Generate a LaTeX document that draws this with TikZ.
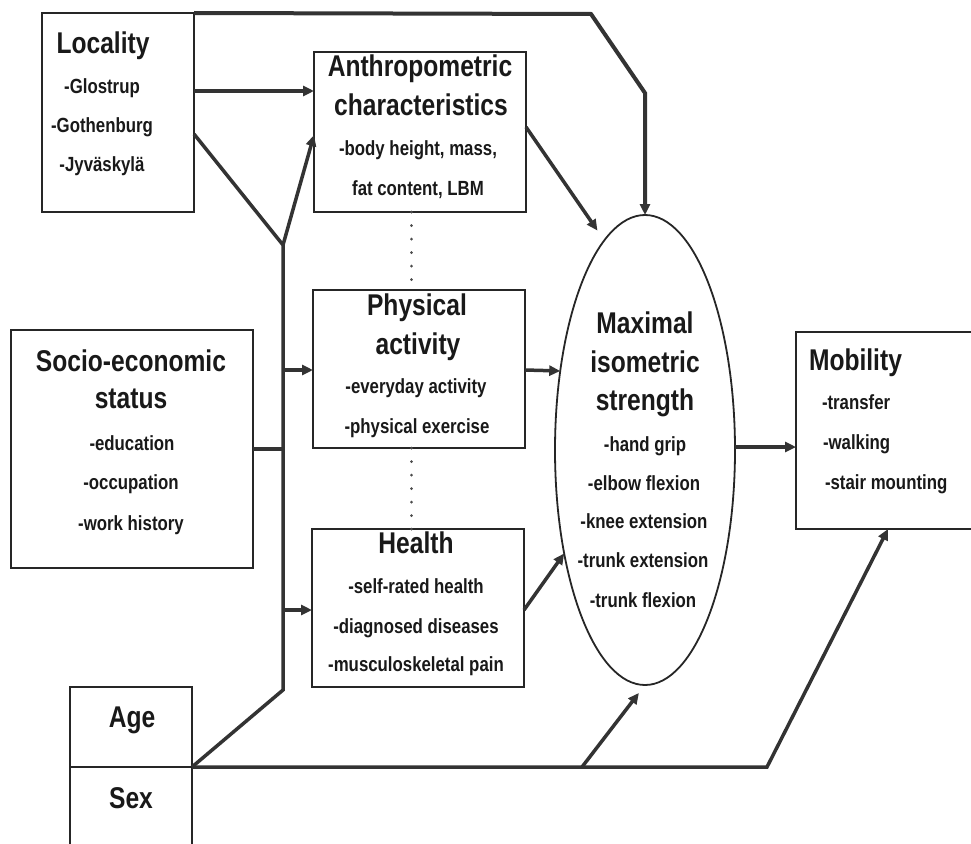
\documentclass[tikz,border=0pt]{standalone}
\usepackage{fontspec}
\setmainfont{Liberation Sans}[FakeStretch=0.82]
\usetikzlibrary{arrows.meta, positioning, shapes.geometric}

\begin{document}
\begin{tikzpicture}[x=1pt, y=-1pt, line join=miter,
    every node/.style={inner sep=0pt, outer sep=0pt}]
  \tikzstyle{box}=[rectangle, draw=black!85, line width=2pt, anchor=north west]
  \tikzstyle{ttl}=[font=\fontsize{30}{36}\selectfont\bfseries, text=black!90, anchor=base]
  \tikzstyle{itm}=[font=\fontsize{20.5}{24}\selectfont\bfseries, text=black!90, anchor=base]
  \tikzstyle{conn}=[draw=black!80, line width=3.5pt]
  \tikzstyle{arr}=[conn, -{Triangle[length=11pt, width=10pt]}]
  \tikzstyle{dots}=[draw=black!70, line width=3pt, line cap=round, dash pattern=on 0.1pt off 13.4pt]

  \clip (0,0) rectangle (971,843);
  \fill[white] (0,0) rectangle (971,843);

  % Boxes
  \node[box, minimum width=152pt, minimum height=199pt] (loc) at (42,13) {};
  \node[box, minimum width=212pt, minimum height=160pt] (anth) at (314,52) {};
  \node[box, minimum width=212pt, minimum height=158pt] (phys) at (313,290) {};
  \node[box, minimum width=212pt, minimum height=158pt] (hlth) at (312,529) {};
  \node[box, minimum width=242pt, minimum height=238pt] (soc) at (11,330) {};
  \node[box, minimum width=122pt, minimum height=80pt] (age) at (70,687) {};
  \node[box, minimum width=122pt, minimum height=100pt, below=0pt of age] (sex) {};
  \node[box, minimum width=200pt, minimum height=197pt] (mob) at (796,332) {};
  \node[ellipse, draw=black!85, line width=1.8pt, minimum width=180pt,
        minimum height=470pt] (mis) at (645,450) {};

  % Texts
  \node[ttl] (loc_t) at (103,53) {Locality};
  \node[itm] (loc_1) at (102,93) {-Glostrup};
  \node[itm] (loc_2) at (102,132) {-Gothenburg};
  \node[itm] (loc_3) at (102,171) {-Jyväskylä};

  \node[ttl] (anth_t1) at (420,76) {Anthropometric};
  \node[ttl] (anth_t2) at (421,115) {characteristics};
  \node[itm] (anth_1) at (418,155) {-body height, mass,};
  \node[itm] (anth_2) at (418,195) {fat content, LBM};

  \node[ttl] (phys_t1) at (417,315) {Physical};
  \node[ttl] (phys_t2) at (418,354) {activity};
  \node[itm] (phys_1) at (416,393) {-everyday activity};
  \node[itm] (phys_2) at (417,433) {-physical exercise};

  \node[ttl] (hlth_t) at (416,553) {Health};
  \node[itm] (hlth_1) at (416,593) {-self-rated health};
  \node[itm] (hlth_2) at (416,633) {-diagnosed diseases};
  \node[itm] (hlth_3) at (416,671) {-musculoskeletal pain};

  \node[ttl] (soc_t1) at (131,371) {Socio-economic};
  \node[ttl] (soc_t2) at (131,408) {status};
  \node[itm] (soc_1) at (132,450) {-education};
  \node[itm] (soc_2) at (131,489) {-occupation};
  \node[itm] (soc_3) at (131,530) {-work history};

  \node[ttl] (age_t) at (132,727) {Age};
  \node[ttl] (sex_t) at (131,808) {Sex};

  \node[ttl] (mis_t1) at (645,333) {Maximal};
  \node[ttl] (mis_t2) at (645,372) {isometric};
  \node[ttl] (mis_t3) at (645,410) {strength};
  \node[itm] (mis_1) at (645,451) {-hand grip};
  \node[itm] (mis_2) at (644,490) {-elbow flexion};
  \node[itm] (mis_3) at (644,528) {-knee extension};
  \node[itm] (mis_4) at (643,567) {-trunk extension};
  \node[itm] (mis_5) at (643,607) {-trunk flexion};

  \node[ttl, anchor=base west] (mob_t) at (809,370) {Mobility};
  \node[itm, anchor=base west] (mob_1) at (822,409) {-transfer};
  \node[itm, anchor=base west] (mob_2) at (823,449) {-walking};
  \node[itm, anchor=base west] (mob_3) at (825,489) {-stair mounting};

  % Bends and levels
  \coordinate (yj) at (283,245);
  \coordinate (tb) at (283,690);
  \coordinate (tk1) at (591,14);
  \coordinate (tk2) at (645,93);
  \coordinate (lb) at (767,767);
  \coordinate (br) at (582,767);
  \coordinate (mt) at (888,0);
  \coordinate (dt) at (411,0);
  \coordinate (y_la) at (0,91);
  \coordinate (y_ld) at (0,134);
  \coordinate (y_ya) at (0,135);
  \coordinate (y_ae) at (0,127);
  \coordinate (y_pa) at (0,370);
  \coordinate (y_se) at (0,449);
  \coordinate (y_he) at (0,610);
  \coordinate (y_mo) at (0,447);

  % Connectors
  \draw[arr, line width=4pt] (loc.north east) -- (tk1) -- (tk2) -- (mis.north);
  \draw[arr] (loc.east |- y_la) -- (anth.west |- y_la);
  \draw[conn] (loc.east |- y_ld) -- (yj) -- (tb) -- (age.south east);
  \draw[arr] (yj) -- (anth.west |- y_ya);
  \draw[conn] (soc.east |- y_se) -- (yj |- y_se);
  \draw[arr] (yj |- y_pa) -- (phys.west |- y_pa);
  \draw[arr] (yj |- y_he) -- (hlth.west |- y_he);
  \draw[arr, shorten >=12pt] (anth.east |- y_ae) -- (mis.101);
  \draw[arr] (phys.east |- y_pa) -- (mis.137);
  \draw[arr] (hlth.east |- y_he) -- (mis.232);
  \draw[arr] (mis.east |- y_mo) -- (mob.west |- y_mo);
  \draw[arr] (age.south east) -- (lb) -- (mob.south -| mt);
  \draw[arr, shorten >=10pt] (br) -- (mis.south);
  \draw[dots] (anth.south -| dt) -- (phys.north -| dt);
  \draw[dots] (phys.south -| dt) -- (hlth.north -| dt);
\end{tikzpicture}
\end{document}
